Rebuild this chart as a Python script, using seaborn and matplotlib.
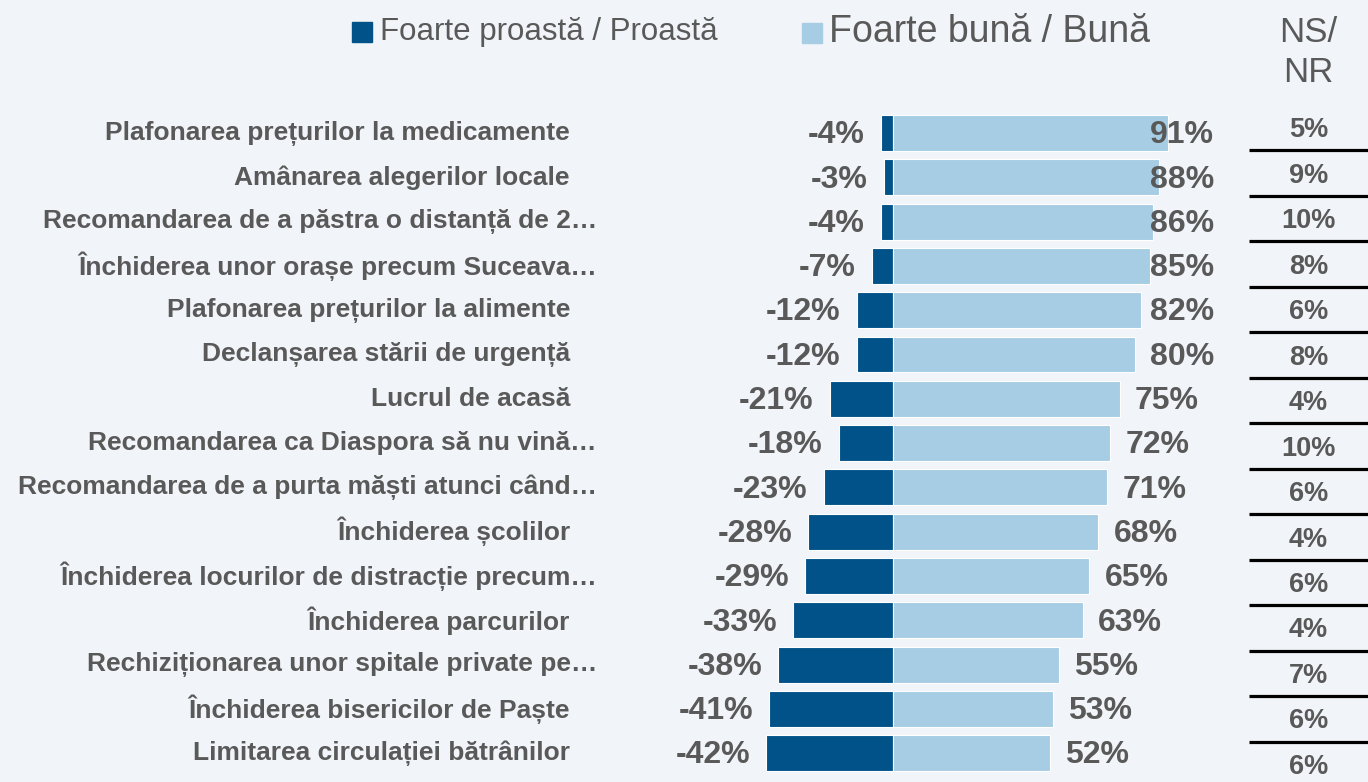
import numpy as np
import matplotlib
matplotlib.use('Agg')
import matplotlib.pyplot as plt
import matplotlib.transforms as mtransforms
from matplotlib.patches import Rectangle
import seaborn as sns

# Data
categories = [
    "Plafonarea prețurilor la medicamente",
    "Amânarea alegerilor locale",
    "Recomandarea de a păstra o distanță de 2…",
    "Închiderea unor orașe precum Suceava…",
    "Plafonarea prețurilor la alimente",
    "Declanșarea stării de urgență",
    "Lucrul de acasă",
    "Recomandarea ca Diaspora să nu vină…",
    "Recomandarea de a purta măști atunci când…",
    "Închiderea școlilor",
    "Închiderea locurilor de distracție precum…",
    "Închiderea parcurilor",
    "Rechiziționarea unor spitale private pe…",
    "Închiderea bisericilor de Paște",
    "Limitarea circulației bătrânilor",
]
bad = [-4, -3, -4, -7, -12, -12, -21, -18, -23, -28, -29, -33, -38, -41, -42]
good = [91, 88, 86, 85, 82, 80, 75, 72, 71, 68, 65, 63, 55, 53, 52]
ns_nr = [5, 9, 10, 8, 6, 8, 4, 10, 6, 4, 6, 4, 7, 6, 6]

legend_bad = "Foarte proastă / Proastă"
legend_good = "Foarte bună / Bună"

DARK = '#005288'
LIGHT = '#A6CDE3'
GREY = '#595959'
BG = '#F1F4F8'

sns.set_style('white')
plt.rcParams['font.family'] = ['Liberation Sans', 'DejaVu Sans']

W, H = 1368, 782
fig = plt.figure(figsize=(W / 100, H / 100), dpi=100, facecolor=BG)

# main diverging bar axes
ax = fig.add_axes([600 / W, 0, 640 / W, 682 / H])
ax.set_facecolor('none')
sns.barplot(x=bad, y=categories, color=DARK, saturation=1, width=0.81, orient='h',
            edgecolor='white', linewidth=0.8, ax=ax)
sns.barplot(x=good, y=categories, color=LIGHT, saturation=1, width=0.81, orient='h',
            edgecolor='white', linewidth=0.8, ax=ax)
ax.set_xlim(-(893 - 600) / 3.02, (1240 - 893) / 3.02)
ax.set_ylim(14.65, -0.745)
ax.set_xlabel('')
ax.set_ylabel('')
ax.set_xticks([])
ax.set_yticks([])
sns.despine(ax=ax, left=True, bottom=True)

# value labels
for i, (b, g) in enumerate(zip(bad, good)):
    ax.text(b - 5.3, i + 0.05, f"{b}%", ha='right', va='center', fontsize=23,
            fontweight='bold', color=GREY)
    ax.text(min(g + 5, 85), i + 0.05, f"{g}%", ha='left', va='center', fontsize=23,
            fontweight='bold', color=GREY)

# category labels, right aligned left of the bars
trans = mtransforms.blended_transform_factory(fig.transFigure, ax.transData)
for i, cat in enumerate(categories):
    xr = 597 if cat.endswith('…') else 570
    ax.text(xr / W, i, cat, transform=trans, ha='right', va='center',
            fontsize=19, fontweight='bold', color=GREY)

# NS/NR column
ax2 = fig.add_axes([1249 / W, 0, 119 / W, 682 / H])
ax2.set_facecolor('none')
ax2.set_xlim(0, 1)
ax2.set_ylim(14.33, -0.66)
ax2.axis('off')
for i, v in enumerate(ns_nr):
    ax2.text(0.5, i, f"{v}%", ha='center', va='center', fontsize=19.5,
             fontweight='bold', color=GREY)
ax2.hlines(np.arange(len(ns_nr) - 1) + 0.44, 0, 1, color='black', lw=2.3)

fig.text(1308 / W, 1 - 32 / H, "NS/", ha='center', va='center', fontsize=25, color=GREY)
fig.text(1308 / W, 1 - 73 / H, "NR", ha='center', va='center', fontsize=25, color=GREY)

# legend
fig.patches.append(Rectangle((352 / W, 1 - 42 / H), 20 / W, 20 / H,
                             transform=fig.transFigure, color=DARK))
fig.text(380 / W, 1 - 32 / H, legend_bad, ha='left', va='center', fontsize=22.5, color=GREY)
fig.patches.append(Rectangle((802 / W, 1 - 43 / H), 20 / W, 20 / H,
                             transform=fig.transFigure, color=LIGHT))
fig.text(829 / W, 1 - 32 / H, legend_good, ha='left', va='center', fontsize=27, color=GREY)

fig.savefig('out.png', dpi=100, facecolor=BG)
